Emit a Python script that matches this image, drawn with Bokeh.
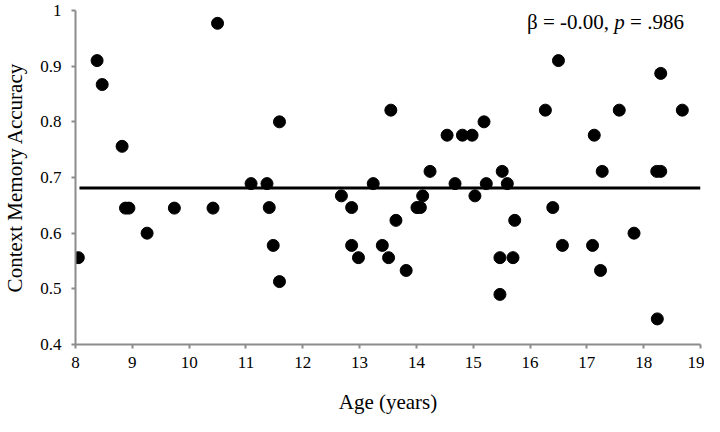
from bokeh.plotting import figure
from bokeh.models import FixedTicker, Label, Range1d
from bokeh.embed import file_html
from bokeh.resources import INLINE

age = [8.05, 8.38, 8.47, 8.82, 8.88, 8.94, 9.26, 9.74, 10.42, 10.50,
       11.09, 11.37, 11.41, 11.48, 11.59, 11.59, 12.68, 12.86, 12.86, 12.98,
       13.24, 13.40, 13.51, 13.55, 13.64, 13.82, 14.01, 14.07, 14.11, 14.24,
       14.54, 14.68, 14.81, 14.98, 15.03, 15.19, 15.23, 15.47, 15.47, 15.51,
       15.60, 15.70, 15.73, 16.27, 16.40, 16.50, 16.57, 17.10, 17.13, 17.24,
       17.27, 17.57, 17.83, 18.23, 18.30, 18.24, 18.30, 18.68]
accuracy = [0.556, 0.910, 0.867, 0.756, 0.645, 0.645, 0.600, 0.645, 0.645, 0.977,
            0.689, 0.689, 0.646, 0.578, 0.513, 0.800, 0.667, 0.646, 0.578, 0.556,
            0.689, 0.578, 0.556, 0.821, 0.623, 0.533, 0.646, 0.646, 0.667, 0.711,
            0.776, 0.689, 0.776, 0.776, 0.667, 0.800, 0.689, 0.556, 0.490, 0.711,
            0.689, 0.556, 0.623, 0.821, 0.646, 0.910, 0.578, 0.578, 0.776, 0.533,
            0.711, 0.821, 0.600, 0.711, 0.711, 0.446, 0.887, 0.821]

fit_x = [8.07, 19.0]
fit_y = [0.681, 0.681]

x_ticks = [8, 9, 10, 11, 12, 13, 14, 15, 16, 17, 18, 19]
y_ticks = [0.4, 0.5, 0.6, 0.7, 0.8, 0.9, 1.0]
y_tick_labels = ["0.4", "0.5", "0.6", "0.7", "0.8", "0.9", "1"]

# annotation pieces: text, anchor x (years), alignment, style
stat_texts = ["β = -0.00,", "p", "= .986"]
stat_x = [17.39, 17.48, 17.76]
stat_align = ["right", "left", "left"]
stat_styles = ["normal", "italic", "normal"]
stat_y = 0.979

FONT = "Liberation Serif"
AXIS_GRAY = "#8c8c8c"

p = figure(width=704, height=416, output_backend="svg", toolbar_location=None,
           x_range=Range1d(8, 19), y_range=Range1d(0.4, 1.0),
           min_border_left=70, min_border_right=4, min_border_top=10, min_border_bottom=72)
p.outline_line_color = None
p.xgrid.visible = False
p.ygrid.visible = False
p.background_fill_color = "white"
p.border_fill_color = "white"

p.line(fit_x, fit_y, line_color="black", line_width=3)
p.scatter(age, accuracy, size=12, fill_color="black", line_color="black")

for ax in (p.xaxis[0], p.yaxis[0]):
    ax.axis_line_color = AXIS_GRAY
    ax.axis_line_width = 2
    ax.major_tick_line_color = AXIS_GRAY
    ax.major_tick_line_width = 2
    ax.major_tick_in = 0
    ax.major_tick_out = 4
    ax.minor_tick_line_color = None
    ax.major_label_text_font = FONT
    ax.major_label_text_font_size = "17px"
    ax.major_label_text_color = "black"
    ax.axis_label_text_font = FONT
    ax.axis_label_text_font_style = "normal"
    ax.axis_label_text_font_size = "21px"
    ax.axis_label_text_color = "black"

p.xaxis.ticker = FixedTicker(ticks=x_ticks)
p.yaxis.ticker = FixedTicker(ticks=y_ticks)
p.yaxis.major_label_overrides = dict(zip(y_ticks, y_tick_labels))
p.xaxis.axis_label = "Age (years)"
p.yaxis.axis_label = "Context Memory Accuracy"
p.xaxis.major_label_standoff = 8
p.yaxis.major_label_standoff = 10
p.xaxis.axis_label_standoff = 19
p.yaxis.axis_label_standoff = 10

for t, x, al, st in zip(stat_texts, stat_x, stat_align, stat_styles):
    p.add_layout(Label(x=x, y=stat_y, text=t, text_align=al, text_baseline="middle",
                       text_font=FONT, text_font_size="21px", text_font_style=st,
                       text_color="black"))

open("out.html", "w").write(file_html(p, INLINE))
